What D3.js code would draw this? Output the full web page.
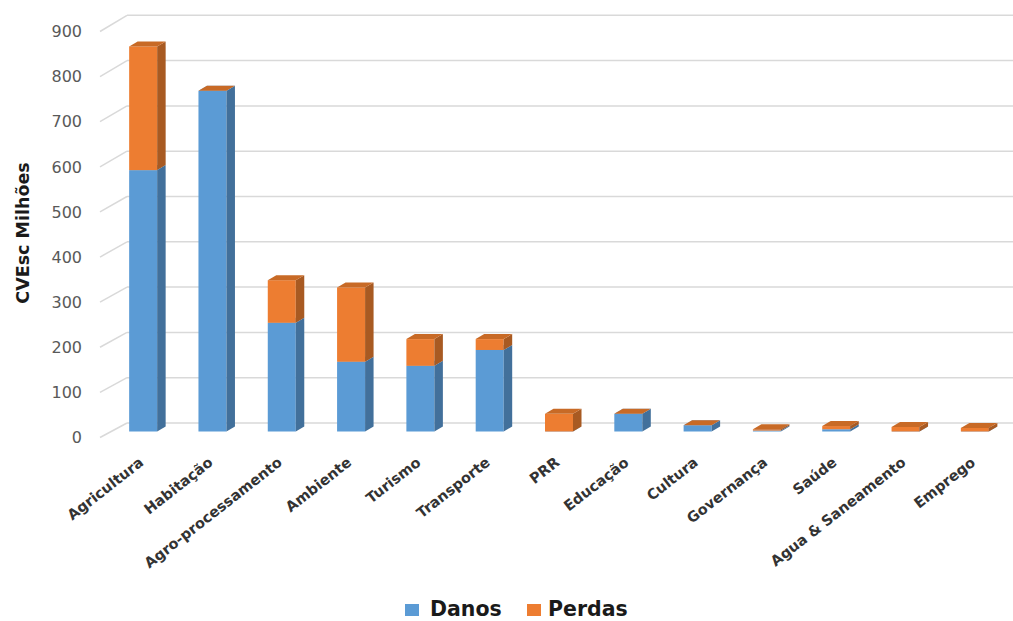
<!DOCTYPE html>
<html>
<head>
<meta charset="utf-8">
<script src="https://cdn.jsdelivr.net/npm/d3@7/dist/d3.min.js"></script>
<style>
  html, body { margin: 0; padding: 0; background: #fff; }
  svg { display: block; }
  text { font-family: "DejaVu Sans", "Open Sans", sans-serif; }
</style>
</head>
<body>
<svg id="chart" width="1013" height="621"></svg>
<script>
// Sector names (x axis)
const categories = ["Agricultura", "Habitação", "Agro-processamento", "Ambiente", "Turismo",
  "Transporte", "PRR", "Educação", "Cultura", "Governança", "Saúde", "Agua & Saneamento", "Emprego"];
// Damages (CVEsc millions)
const danos  = [577, 752, 240, 154, 145, 180, 0, 39, 14, 2, 5, 0, 0];
// Losses (CVEsc millions)
const perdas = [273, 0, 94, 164, 59, 24, 39, 0, 0, 3, 7, 10, 8];
// Value axis ticks
const yTicks = [0, 100, 200, 300, 400, 500, 600, 700, 800, 900];
const seriesNames = ["Danos", "Perdas"];

const svg = d3.select("#chart");
const W = 1013;

// Face colours per series: front, side, top
const palette = {
  Danos:  { front: "#5b9bd5", side: "#42709b", top: "#7fb0dd" },
  Perdas: { front: "#ed7d31", side: "#a85a22", top: "#c86a26" }
};

// Column positions
const x = d3.scaleBand()
  .domain(categories)
  .range([108.5, 1009.5])
  .paddingInner(0.596)
  .paddingOuter(0.298);

// Value scales: at the columns' depth, on the back wall, and on the front edge
const yBar   = d3.scaleLinear().domain([0, 900]).range([431.5, 23.8]);
const yWall  = d3.scaleLinear().domain([0, 900]).range([423, 15.3]);
const yFront = d3.scaleLinear().domain([0, 900]).range([437.5, 31.5]);

const depthX = 8.5, depthY = -5;
const wallLeft = 127, floorLeft = 100;

// Gridlines: back wall + receding left side
const grid = svg.append("g").attr("stroke", "#d9d9d9").attr("stroke-width", 1.5).attr("fill", "none");
grid.selectAll("line.wall").data(yTicks).join("line")
  .attr("class", "wall")
  .attr("x1", wallLeft).attr("x2", W)
  .attr("y1", d => yWall(d)).attr("y2", d => yWall(d));
grid.selectAll("line.side").data(yTicks).join("line")
  .attr("class", "side")
  .attr("x1", floorLeft).attr("y1", d => yFront(d))
  .attr("x2", wallLeft).attr("y2", d => yWall(d));

// Tick labels
svg.append("g").selectAll("text").data(yTicks).join("text")
  .attr("x", 82).attr("y", d => yFront(d))
  .attr("dy", "0.36em")
  .attr("text-anchor", "end")
  .attr("font-size", 16)
  .attr("fill", "#595959")
  .text(d => d3.format("d")(d));

// Axis title
svg.append("text")
  .attr("transform", "translate(29,233) rotate(-90)")
  .attr("text-anchor", "middle")
  .attr("font-size", 17.5)
  .attr("font-weight", "bold")
  .attr("fill", "#1a1a1a")
  .text("CVEsc Milhões");

// Stacked 3D columns
const stack = d3.stack().keys(seriesNames);
const rows = categories.map((c, i) => ({ cat: c, Danos: danos[i], Perdas: perdas[i] }));
const stacked = stack(rows);

const bars = svg.append("g");
categories.forEach((cat, i) => {
  const g = bars.append("g");
  const x0 = x(cat), x1 = x0 + x.bandwidth();
  stacked.forEach(layer => {
    const key = layer.key;
    const [v0, v1] = layer[i];
    const yb = yBar(v0), yt = yBar(v1);
    const col = palette[key];
    // front face
    g.append("rect").attr("x", x0).attr("y", yt)
      .attr("width", x1 - x0).attr("height", Math.max(0, yb - yt))
      .attr("fill", col.front);
    // side face
    g.append("path")
      .attr("d", `M${x1},${yt}L${x1 + depthX},${yt + depthY}L${x1 + depthX},${yb + depthY}L${x1},${yb}Z`)
      .attr("fill", col.side);
    // top face
    g.append("path")
      .attr("d", `M${x0},${yt}L${x0 + depthX},${yt + depthY}L${x1 + depthX},${yt + depthY}L${x1},${yt}Z`)
      .attr("fill", col.top);
  });
});

// Category labels
svg.append("g").selectAll("text").data(categories).join("text")
  .attr("transform", d => `translate(${x(d) + x.bandwidth() / 2 - 5},456) rotate(-38)`)
  .attr("text-anchor", "end")
  .attr("dy", "0.72em")
  .attr("font-size", 14.5)
  .attr("font-weight", "bold")
  .attr("fill", "#333")
  .text(d => d);

// Legend
const legend = svg.append("g");
const legendItems = [
  { name: "Danos",  sx: 405, tx: 430 },
  { name: "Perdas", sx: 527, tx: 548 }
];
legendItems.forEach(it => {
  legend.append("rect").attr("x", it.sx).attr("y", 604).attr("width", 14).attr("height", 12)
    .attr("fill", palette[it.name].front);
  legend.append("text").attr("x", it.tx).attr("y", 616)
    .attr("font-size", 20.5).attr("font-weight", "bold").attr("fill", "#1a1a1a")
    .text(it.name);
});
</script>
</body>
</html>
